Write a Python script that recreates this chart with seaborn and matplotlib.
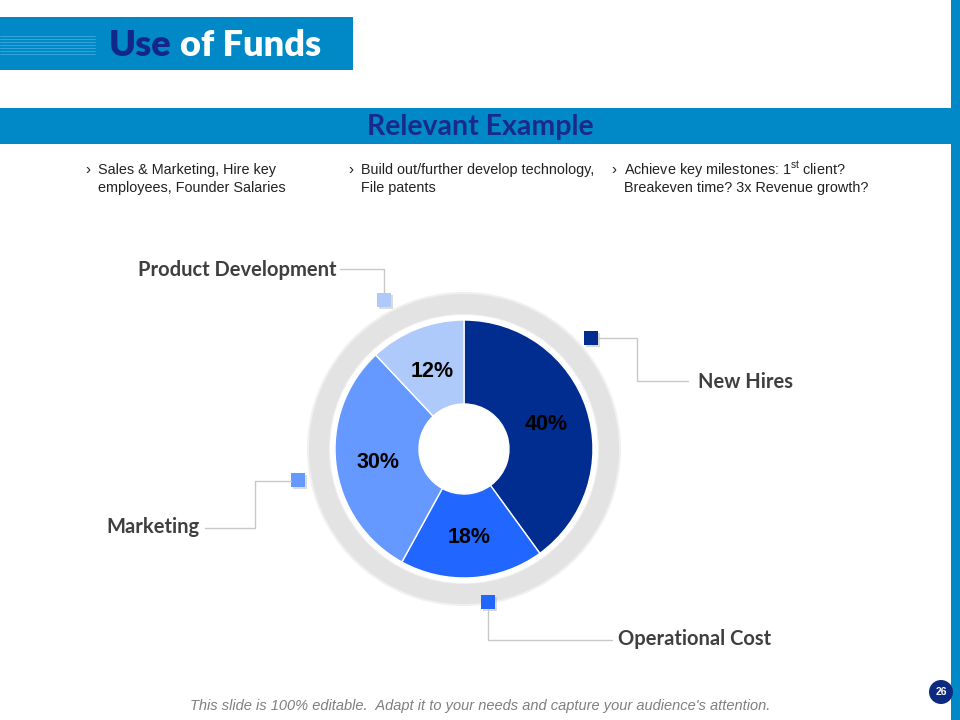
"""
Use of Funds slide: donut chart with callout labels.
"""

import matplotlib
matplotlib.use("Agg")
import matplotlib.pyplot as plt
import seaborn as sns
from matplotlib.patches import Rectangle, Circle, Wedge

# --------------------------------------------------------------------------
# Data
# --------------------------------------------------------------------------
CATEGORIES = ["New Hires", "Operational Cost", "Marketing", "Product Development"]
SHARES = [40, 18, 30, 12]
COLORS = ["#002D8F", "#2166FF", "#6699FF", "#AECAFB"]

BULLETS = [
    ["Sales & Marketing, Hire key", "employees, Founder Salaries"],
    ["Build out/further develop technology,", "File patents"],
    ["Achieve key milestones: 1$^{\\mathregular{st}}$ client?", "Breakeven time? 3x Revenue growth?"],
]

BLUE = "#0089C6"
NAVY = "#13278A"
LABEL_GRAY = "#3F3F3F"
LINE_GRAY = "#C8C8C8"

sns.set_theme(style="white")
plt.rcParams["font.family"] = ["Liberation Sans", "DejaVu Sans"]

fig = plt.figure(figsize=(9.6, 7.2), dpi=100)

# full-figure canvas in pixel coords for slide decorations (on top of donut)
bg = fig.add_axes([0, 0, 1, 1])
bg.set_xlim(0, 960)
bg.set_ylim(720, 0)
bg.axis("off")
bg.set_zorder(3)

# header box + faint stripes
bg.add_patch(Rectangle((0, 17), 353, 53, color=BLUE, lw=0))
for y in range(36, 56, 3):
    bg.plot([0, 95], [y, y], color="#5BB8E6", lw=0.6, alpha=0.7)
bg.text(109, 46, "Use", color=NAVY, fontsize=26, fontweight="heavy",
        family="Lato", va="center", ha="left")
bg.text(180, 46, "of Funds", color="white", fontsize=26, fontweight="heavy",
        family="Lato", va="center", ha="left")

# right strip and banner
bg.add_patch(Rectangle((951, 0), 9, 720, color=BLUE, lw=0))
bg.add_patch(Rectangle((0, 108), 951, 36, color=BLUE, lw=0))
bg.text(480, 127, "Relevant Example", color="#1A2A8A", fontsize=20.5, fontweight="bold",
        family="Lato", ha="center", va="center")

# bullet columns
for x, lines in zip([85, 348, 611], BULLETS):
    bg.text(x, 170, "\u203a", fontsize=11, color="#222222", va="center")
    for i, line in enumerate(lines):
        bg.text(x + 13, 170 + 18 * i, line, fontsize=10.4, color="#222222",
                va="center")

# footer
bg.text(480, 706, "This slide is 100% editable.  Adapt it to your needs and capture "
        "your audience's attention.", fontsize=10.5, style="italic",
        color="#7F7F7F", ha="center", va="center")
bg.add_patch(Circle((941, 692), 12, color="#0D2A80", lw=0))
bg.text(941, 692, "26", color="white", fontsize=7.5, fontweight="bold",
        ha="center", va="center")

# callouts: (square xy, polyline points, label xy, ha)
CALLOUTS = {
    "Product Development": ((384, 300), [(384, 293), (384, 269), (340, 269)], (337, 270), "right"),
    "New Hires": ((591, 338), [(598, 338), (637, 338), (637, 381), (688, 381)], (698, 382), "left"),
    "Operational Cost": ((488, 602), [(488, 609), (488, 640), (612, 640)], (618, 639), "left"),
    "Marketing": ((298, 480), [(291, 481), (255, 481), (255, 528), (205, 528)], (199, 527), "right"),
}
for cat, col in zip(CATEGORIES, COLORS):
    (sx, sy), pts, (lx, ly), ha = CALLOUTS[cat]
    xs, ys = zip(*pts)
    bg.plot(xs, ys, color=LINE_GRAY, lw=1)
    bg.add_patch(Rectangle((sx - 5, sy - 5), 14, 14, color="#9A9A9A", alpha=0.35, lw=0))
    bg.add_patch(Rectangle((sx - 7, sy - 7), 14, 14, color=col, lw=0))
    bg.text(lx, ly, cat, fontsize=14.5, fontweight="bold", color=LABEL_GRAY,
            family="Lato", ha=ha, va="center")

# donut axes: center (464, 449), half-size 160 px
cx, cy, half = 464, 449, 160
ax = fig.add_axes([(cx - half) / 960, (720 - cy - half) / 720, 2 * half / 960, 2 * half / 720])
ax.set_zorder(1)
ax.set_xlim(-half, half)
ax.set_ylim(-half, half)
ax.set_aspect("equal")
ax.axis("off")

# gray outer ring
ax.add_patch(Wedge((0, 0), 156, 0, 360, width=22, facecolor="#E3E3E3",
                   edgecolor="#F0F0F0", lw=1.5))
ax.add_patch(Circle((0, 0), 134, facecolor="white", lw=0))

wedges, texts, autotexts = ax.pie(
    SHARES, colors=COLORS, radius=129, startangle=90, counterclock=False,
    autopct="%d%%", pctdistance=0.67,
    wedgeprops=dict(width=129 - 45, edgecolor="white", linewidth=1),
    textprops=dict(fontsize=15.5, fontweight="bold", color="black"),
)
for t in autotexts:
    t.set_va("center_baseline")
ax.set_xlim(-half, half)
ax.set_ylim(-half, half)

fig.savefig("out.png", dpi=100)
